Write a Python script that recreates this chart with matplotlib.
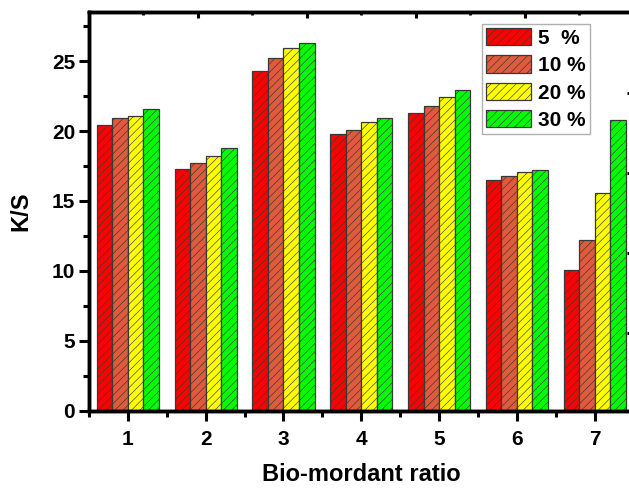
import numpy as np
import matplotlib
matplotlib.use('Agg')
import matplotlib.pyplot as plt

plt.rcParams['font.family'] = ['Liberation Sans', 'DejaVu Sans']
plt.rcParams['font.weight'] = 'bold'
plt.rcParams['hatch.linewidth'] = 0.45

ratios = [1, 2, 3, 4, 5, 6, 7]
labels = ['5  %', '10 %', '20 %', '30 %']
ks_5 = [20.4, 17.3, 24.3, 19.8, 21.3, 16.5, 10.1]
ks_10 = [20.9, 17.7, 25.2, 20.1, 21.8, 16.8, 12.2]
ks_20 = [21.1, 18.2, 25.9, 20.65, 22.45, 17.05, 15.6]
ks_30 = [21.55, 18.8, 26.3, 20.9, 22.9, 17.25, 20.8]
series = [ks_5, ks_10, ks_20, ks_30]
colors = ['#ff0000', '#e05a3c', '#ffff00', '#00ff00']

fig = plt.figure(figsize=(6.29, 4.88), dpi=100)
ax = fig.add_axes([0.1415, 0.1578, 0.8658, 0.8176])

x = np.array(ratios, dtype=float)
width = 0.2
for i, (vals, col, lab) in enumerate(zip(series, colors, labels)):
    ax.bar(x + (i - 1.5) * width, vals, width, color=col, edgecolor='#383838',
           linewidth=0.9, hatch='////', label=lab, zorder=2)

ax.set_xlim(0.5, 7.5)
ax.set_ylim(0, 28.5)
ax.set_xticks(ratios)
ax.set_xticks(np.arange(0.5, 7.6, 1.0), minor=True)
ax.set_yticks(np.arange(0, 26, 5))
ax.set_yticks(np.arange(0, 28.5, 2.5), minor=True)
ax.tick_params(axis='both', which='major', direction='out', length=7, width=2.2,
               labelsize=15, pad=3)
ax.tick_params(axis='both', which='minor', direction='out', length=4, width=2.2)
ax.tick_params(axis='x', which='major', pad=7)
for s in ax.spines.values():
    s.set_linewidth(2.4)

ax.set_xlabel('Bio-mordant ratio', fontsize=17, fontweight='bold', labelpad=10)
ax.set_ylabel('K/S', fontsize=17, fontweight='bold', labelpad=14)

# top and right axes carry their own ticks, no labels
top = ax.twiny()
top.set_xlim(ax.get_xlim())
top.set_xticks([1.9, 3.3, 4.7, 6.1])
top.set_xticks([1.2, 2.6, 4.0, 5.4, 6.8], minor=True)
top.tick_params(which='major', direction='in', length=4, width=2.2, labeltop=False)
top.tick_params(which='minor', direction='in', length=2.5, width=2.0, labeltop=False)

right = ax.twinx()
right.set_ylim(ax.get_ylim())
right.set_yticks([22.7, 17.0, 11.3, 5.6])
right.set_yticks([25.6, 19.9, 14.1, 8.4, 2.7], minor=True)
right.tick_params(which='major', direction='in', length=5, width=2.2, labelright=False)
right.tick_params(which='minor', direction='in', length=2.5, width=1.5, labelright=False)
for a in (top, right):
    for s in a.spines.values():
        s.set_linewidth(2.4)

leg = ax.legend(loc='upper left', bbox_to_anchor=(0.7216, 0.970), fontsize=15,
                frameon=True, fancybox=False, edgecolor='#b0b0b0', framealpha=1,
                handlelength=2.15, handleheight=0.9, handletextpad=0.35,
                labelspacing=0.36, borderpad=0.2, borderaxespad=0)
leg.get_frame().set_linewidth(1.0)
for t in leg.get_texts():
    t.set_fontweight('bold')

fig.savefig('out.png', dpi=100)
